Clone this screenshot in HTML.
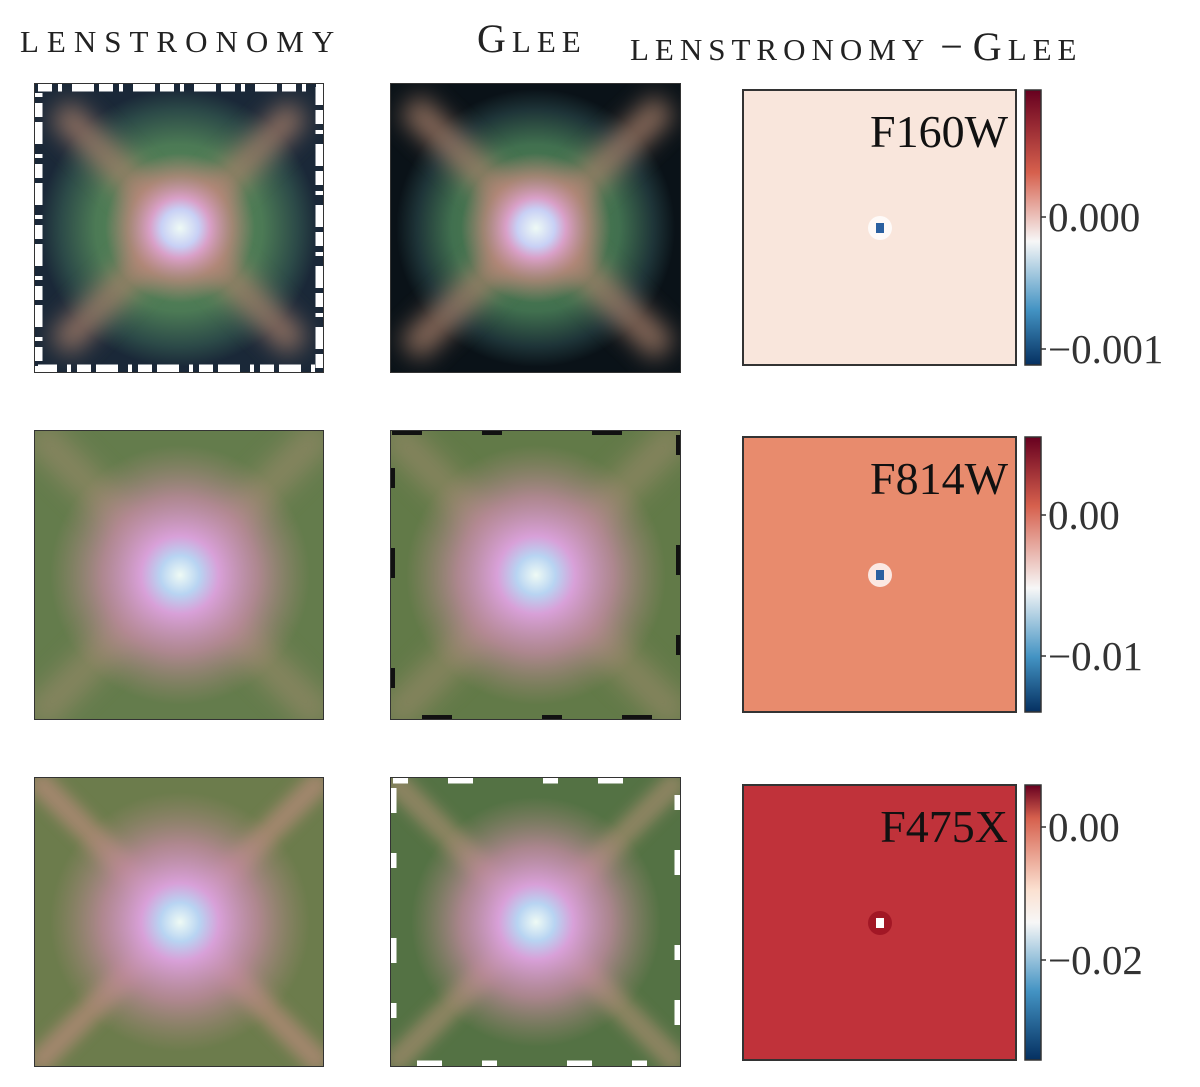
<!DOCTYPE html>
<html><head><meta charset="utf-8"><style>
body{margin:0;background:#fff;width:1200px;height:1087px;overflow:hidden;font-family:"Liberation Serif",serif;}
svg{position:absolute;left:0;top:0}
</style></head><body>
<svg id="fig" width="1200" height="1087">
<defs>
<filter id="bl" x="-20%" y="-20%" width="140%" height="140%"><feGaussianBlur stdDeviation="12"/></filter>
<filter id="bl2" x="-20%" y="-20%" width="140%" height="140%"><feGaussianBlur stdDeviation="7"/></filter>
<radialGradient id="core1"><stop offset="0" stop-color="#eefaf5"/><stop offset="0.25" stop-color="#c8d0f5"/><stop offset="0.4" stop-color="#d9a0c8"/><stop offset="0.7" stop-color="#c08a80" stop-opacity="0.7"/><stop offset="1" stop-color="#c08a80" stop-opacity="0"/></radialGradient>
<radialGradient id="core2"><stop offset="0" stop-color="#eefaf5"/><stop offset="0.15" stop-color="#b8d4f2"/><stop offset="0.3" stop-color="#d8a0d8"/><stop offset="0.6" stop-color="#c08aa0" stop-opacity="0.8"/><stop offset="1" stop-color="#b08880" stop-opacity="0"/></radialGradient>
<radialGradient id="body1"><stop offset="0" stop-color="#5e8a55"/><stop offset="0.6" stop-color="#4c7a55"/><stop offset="0.85" stop-color="#2c4a48"/><stop offset="1" stop-color="#1a2838"/></radialGradient>
<radialGradient id="body2"><stop offset="0" stop-color="#5a8450"/><stop offset="0.6" stop-color="#41704f"/><stop offset="0.85" stop-color="#1e3438"/><stop offset="1" stop-color="#0a1218"/></radialGradient>
<linearGradient id="cb1" x1="0" y1="0" x2="0" y2="1"><stop offset="0" stop-color="#67001f"/><stop offset="0.3" stop-color="#d6604d"/><stop offset="0.55" stop-color="#f7f7f7"/><stop offset="0.8" stop-color="#4393c3"/><stop offset="1" stop-color="#053061"/></linearGradient>
<linearGradient id="cb2" x1="0" y1="0" x2="0" y2="1"><stop offset="0" stop-color="#67001f"/><stop offset="0.25" stop-color="#d6604d"/><stop offset="0.55" stop-color="#f7f7f7"/><stop offset="0.8" stop-color="#4393c3"/><stop offset="1" stop-color="#053061"/></linearGradient>
<linearGradient id="cb3" x1="0" y1="0" x2="0" y2="1"><stop offset="0" stop-color="#67001f"/><stop offset="0.12" stop-color="#d6604d"/><stop offset="0.38" stop-color="#fbe0d0"/><stop offset="0.5" stop-color="#f7f7f7"/><stop offset="0.75" stop-color="#4393c3"/><stop offset="1" stop-color="#053061"/></linearGradient>
<clipPath id="c11"><rect x="34" y="83" width="290" height="290"/></clipPath>
<clipPath id="c12"><rect x="390" y="83" width="291" height="290"/></clipPath>
<clipPath id="c21"><rect x="34" y="430" width="290" height="290"/></clipPath>
<clipPath id="c22"><rect x="390" y="430" width="291" height="290"/></clipPath>
<clipPath id="c31"><rect x="34" y="777" width="290" height="290"/></clipPath>
<clipPath id="c32"><rect x="390" y="777" width="291" height="290"/></clipPath>
</defs>

<g fill="#222">
<text x="20" y="52" font-size="31" letter-spacing="8">LENSTRONOMY</text>
<text x="477" y="52" font-size="40" letter-spacing="6">G<tspan font-size="31">LEE</tspan></text>
<text x="630" y="60" font-size="31" letter-spacing="6">LENSTRONOMY<tspan font-size="40" letter-spacing="0"> − </tspan><tspan font-size="40">G</tspan>LEE</text>
</g>

<g clip-path="url(#c11)">
<rect x="34" y="83" width="290" height="290" fill="#1a2838"/>
<rect x="40" y="89" width="278" height="278" fill="url(#body1)"/>
<g filter="url(#bl)" stroke="#a8806a" stroke-width="30" opacity="0.8"><line x1="60" y1="110" x2="298" y2="346"/><line x1="298" y1="110" x2="60" y2="346"/></g>
<circle cx="180" cy="228" r="75" fill="url(#core1)"/>
<rect x="38" y="87" width="282" height="282" fill="none" stroke="#fff" stroke-width="9" stroke-dasharray="14 6 4 10 22 5"/>
<rect x="34" y="83" width="290" height="290" fill="none" stroke="#333" stroke-width="2"/>
</g>
<g clip-path="url(#c12)">
<rect x="390" y="83" width="291" height="290" fill="#0a1218"/>
<rect x="396" y="89" width="279" height="278" fill="url(#body2)"/>
<g filter="url(#bl)" stroke="#a8806a" stroke-width="30" opacity="0.8"><line x1="410" y1="105" x2="665" y2="350"/><line x1="665" y1="105" x2="410" y2="350"/></g>
<circle cx="536" cy="228" r="75" fill="url(#core1)"/>
<rect x="390" y="83" width="291" height="290" fill="none" stroke="#333" stroke-width="2"/>
</g>
<g clip-path="url(#c21)">
<rect x="34" y="430" width="290" height="290" fill="#647c4c"/>
<g filter="url(#bl)" stroke="#9c8a6c" stroke-width="34" opacity="0.6"><line x1="34" y1="430" x2="324" y2="720"/><line x1="324" y1="430" x2="34" y2="720"/></g>
<circle cx="180" cy="575" r="130" fill="url(#core2)"/>
<rect x="34" y="430" width="290" height="290" fill="none" stroke="#333" stroke-width="2"/>
</g>
<g clip-path="url(#c22)">
<rect x="390" y="430" width="291" height="290" fill="#627a48"/>
<g filter="url(#bl)" stroke="#9c8a6c" stroke-width="34" opacity="0.6"><line x1="390" y1="430" x2="681" y2="720"/><line x1="681" y1="430" x2="390" y2="720"/></g>
<circle cx="536" cy="575" r="130" fill="url(#core2)"/>
<rect x="392" y="432" width="287" height="286" fill="none" stroke="#111" stroke-width="6" stroke-dasharray="30 60 20 90"/>
<rect x="390" y="430" width="291" height="290" fill="none" stroke="#333" stroke-width="2"/>
</g>
<g clip-path="url(#c31)">
<rect x="34" y="777" width="290" height="290" fill="#6c7c4c"/>
<g filter="url(#bl2)" stroke="#b48a78" stroke-width="24" opacity="0.75"><line x1="34" y1="777" x2="324" y2="1067"/><line x1="324" y1="777" x2="34" y2="1067"/></g>
<circle cx="180" cy="922" r="130" fill="url(#core2)"/>
<rect x="34" y="777" width="290" height="290" fill="none" stroke="#333" stroke-width="2"/>
</g>
<g clip-path="url(#c32)">
<rect x="390" y="777" width="291" height="290" fill="#547244"/>
<g filter="url(#bl2)" stroke="#a08a6c" stroke-width="24" opacity="0.75"><line x1="390" y1="777" x2="681" y2="1067"/><line x1="681" y1="777" x2="390" y2="1067"/></g>
<circle cx="536" cy="922" r="125" fill="url(#core2)"/>
<rect x="393" y="780" width="285" height="284" fill="none" stroke="#fff" stroke-width="7" stroke-dasharray="15 40 25 70"/>
<rect x="390" y="777" width="291" height="290" fill="none" stroke="#333" stroke-width="2"/>
</g>

<g id="diffs"></g>
</svg>
<script>
const bands = ["F160W","F814W","F475X"];
const fills = ["#f9e6dc","#e88b6d","#c0323a"];
const tick0 = ["0.000","0.00","0.00"];
const tick1 = ["−0.001","−0.01","−0.02"];
const tickY0 = [217,515,827];
const tickY1 = [349,656,960];
const svg = document.getElementById('diffs');
const NS = "http://www.w3.org/2000/svg";
const top0 = [90,437,785];
function mk(t,a){const e=document.createElementNS(NS,t);for(const k in a)e.setAttribute(k,a[k]);svg.appendChild(e);return e;}
bands.forEach((b,i)=>{
  const y=top0[i];
  const r=mk('rect',{x:743,y:y,width:273,height:275,fill:fills[i],stroke:'#333','stroke-width':2});
  
  
  const c=mk('circle',{cx:880,cy:y+138,r:12,fill:i==2?'#9a1020':'#fff',opacity:0.8});
  
  
  const d=mk('rect',{x:876,y:y+133,width:8,height:10,fill:i==2?'#fff':'#2a60a0'});
  
  
  const t=mk('text',{x:1008,y:y+57,'font-size':46,'text-anchor':'end',fill:'#111','font-family':'Liberation Serif, serif'});
  t.textContent=b;
  
  
  const cb=mk('rect',{x:1025,y:y,width:16,height:275,fill:'url(#cb'+(i+1)+')',stroke:'#333','stroke-width':1.5});
  
  
  [[tickY0[i],tick0[i]],[tickY1[i],tick1[i]]].forEach(([ty,tl])=>{
    const l=mk('line',{x1:1041,x2:1046,y1:ty,y2:ty,stroke:'#333','stroke-width':1.5});
    
    
    const tx=mk('text',{x:1048,y:ty+14,'font-size':41,fill:'#333','font-family':'Liberation Serif, serif'});
    tx.textContent=tl;
    
    
  });
});
</script>
</body></html>
